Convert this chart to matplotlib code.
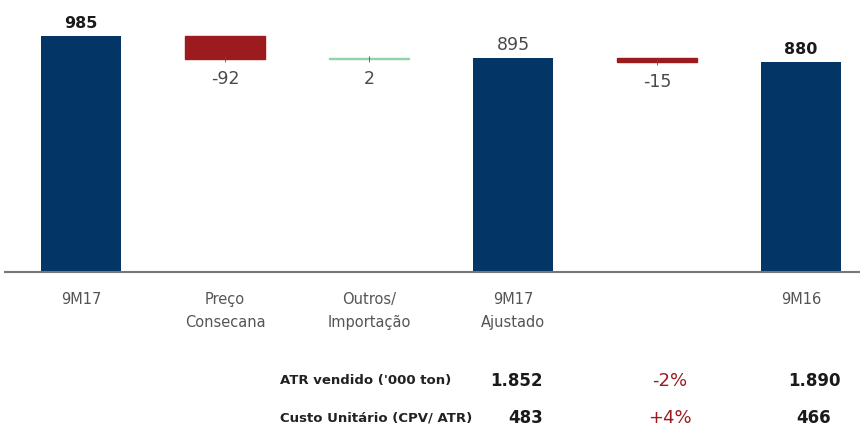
import numpy as np
import matplotlib.pyplot as plt

plt.rcParams["font.family"] = ["DejaVu Sans"]

# dados da ponte (waterfall)
categorias = ["9M17", "Preço\nConsecana", "Outros/\nImportação", "9M17\nAjustado", "", "9M16"]
valores = [985, -92, 2, 895, -15, 880]
tipo = ["total", "delta", "delta", "total", "delta", "total"]
rotulos = ["985", "-92", "2", "895", "-15", "880"]
negrito = [True, False, False, False, False, True]

# tabela inferior
linhas_tabela = ["ATR vendido ('000 ton)", "Custo Unitário (CPV/ ATR)"]
col_9m17 = ["1.852", "483"]
col_var = ["-2%", "+4%"]
col_9m16 = ["1.890", "466"]

azul = "#033566"
vermelho = "#9B1B1E"
verde = "#8FD4A8"

W, H = 860, 427
fig = plt.figure(figsize=(W/100, H/100), dpi=100)

# eixo: linha base em y=273 px, de x=5 a 860 px
ax = fig.add_axes([5/W, (H-273)/H, 855/W, 273/H])
px_por_cat = 144
x0 = (5-81)/px_por_cat
ax.set_xlim(x0, x0+855/px_por_cat)
ax.set_ylim(32, 985+37/0.2476)

largura = 80/px_por_cat
x = np.arange(len(valores))

nivel = 0
for i in range(len(valores)):
    v = valores[i]
    if tipo[i] == "total":
        base, altura = 0, v
        cor = azul
        nivel = v
        topo = v
        fundo = None
    else:
        if v < 0:
            base, altura = nivel+v, -v
            cor = vermelho
        else:
            base, altura = nivel, v
            cor = verde
        topo = base+altura
        fundo = base
        nivel = nivel+v
    ax.bar(x[i], altura, bottom=base, width=largura, color=cor,
           edgecolor=cor, linewidth=1 if tipo[i] == "delta" else 0)

    if tipo[i] == "total":
        ax.annotate(rotulos[i], (x[i], topo), xytext=(0, 4), textcoords="offset points",
                    ha="center", va="bottom",
                    fontsize=11.5 if negrito[i] else 12.5,
                    fontweight="bold" if negrito[i] else "normal",
                    color="#1a1a1a" if negrito[i] else "#4a4a4a")
    else:
        ax.vlines(x[i], fundo-12, fundo+12, color="#555555", linewidth=0.6)
        ax.annotate(rotulos[i], (x[i], fundo), xytext=(0, -7), textcoords="offset points",
                    ha="center", va="top", fontsize=12.5, color="#4a4a4a")

for s in ["top", "right", "left"]:
    ax.spines[s].set_visible(False)
ax.spines["bottom"].set_color("#777777")
ax.spines["bottom"].set_linewidth(1.5)
ax.set_yticks([])
ax.set_xticks(x)
ax.set_xticklabels(categorias, fontsize=10.5, color="#555555", linespacing=1.65)
ax.tick_params(axis="x", length=0, pad=14)

# tabela
linhas_y = [381, 418]
for j in range(len(linhas_tabela)):
    yf = (H-linhas_y[j])/H
    fig.text(280/W, yf, linhas_tabela[j], ha="left", va="center", fontsize=9.5,
             fontweight="bold", color="#222222")
    fig.text(543/W, yf, col_9m17[j], ha="right", va="center", fontsize=12,
             fontweight="bold", color="#1a1a1a")
    fig.text(670/W, yf, col_var[j], ha="center", va="center", fontsize=13,
             color=vermelho)
    fig.text(814/W, yf, col_9m16[j], ha="center", va="center", fontsize=12,
             fontweight="bold", color="#1a1a1a")

fig.savefig("out.png", dpi=100)
